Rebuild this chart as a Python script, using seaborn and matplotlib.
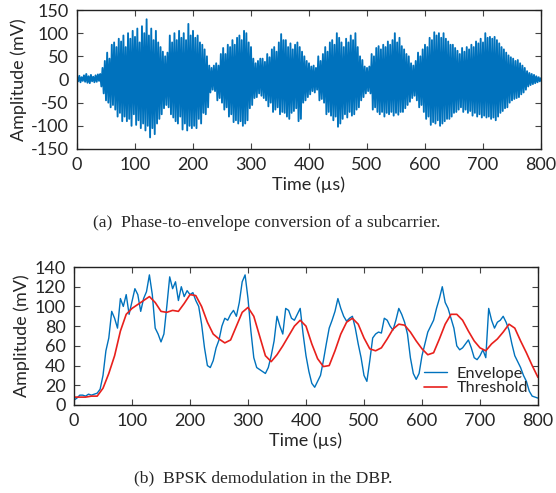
import numpy as np
import pandas as pd
import matplotlib
matplotlib.use("Agg")
import matplotlib.pyplot as plt
import seaborn as sns

# ====== data ======
# (a) subcarrier waveform, one sample every 2 us, mV (20 samples = 40 us per row)
sig_t = np.arange(0, 801, 2)
sig_mv = [
    6, -4, 8, -6, 5, -3, 9, -5, 12, -7, 7, -8, 10, -4, 6, -6, 9, -5, 11, -3,
    12, -15, 25, -30, 40, -45, 58, -50, 45, -60, 75, -55, 80, -65, 70, -80, 88, -72, 82, -90,
    95, -80, 70, -90, 100, -85, 88, -100, 105, -75, 92, -98, 110, -88, 80, -105, 115, -95, 100, -110,
    130, -100, 95, -125, 110, -105, 85, -118, 105, -95, 80, -85, 70, -75, 60, -62, 50, -55, 58, -60,
    95, -75, 80, -82, 100, -90, 85, -95, 105, -80, 90, -108, 100, -95, 85, -110, 120, -100, 95, -105,
    105, -100, 90, -105, 95, -85, 80, -95, 75, -72, 65, -75, 50, -60, 30, -28, 25, -22, 30, -25,
    35, -45, 30, -40, 55, -50, 68, -65, 55, -60, 75, -80, 70, -75, 85, -92, 75, -88, 90, -95,
    95, -90, 85, -100, 105, -95, 100, -88, 80, -62, 70, -55, 45, -40, 35, -38, 40, -30, 45, -35,
    45, -40, 38, -45, 55, -58, 48, -50, 65, -70, 70, -65, 60, -60, 80, -75, 98, -70, 85, -72,
    85, -80, 70, -85, 78, -72, 65, -68, 75, -62, 80, -90, 70, -85, 60, -50, 50, -45, 40, -38,
    35, -32, 28, -25, 30, -28, 25, -22, 50, -45, 40, -42, 55, -50, 70, -75, 60, -70, 80, -78,
    85, -88, 75, -80, 100, -102, 90, -95, 80, -85, 70, -75, 88, -82, 80, -70, 95, -78, 85, -75,
    100, -65, 70, -60, 50, -45, 42, -38, 28, -30, 25, -25, 28, -30, 55, -65, 50, -60, 68, -70,
    72, -75, 65, -70, 75, -80, 70, -72, 82, -75, 75, -70, 85, -78, 100, -72, 80, -76, 90, -70,
    72, -70, 65, -62, 55, -55, 50, -48, 35, -40, 30, -35, 40, -45, 58, -60, 50, -55, 65, -70,
    75, -85, 70, -80, 90, -98, 85, -92, 102, -95, 95, -88, 100, -100, 90, -95, 100, -90, 88, -85,
    82, -85, 75, -80, 75, -72, 68, -70, 62, -65, 55, -60, 68, -70, 60, -65, 70, -72, 65, -68,
    75, -78, 70, -72, 82, -80, 78, -75, 88, -82, 80, -78, 100, -82, 90, -80, 92, -85, 88, -82,
    92, -88, 85, -80, 78, -72, 70, -68, 65, -62, 58, -60, 52, -50, 48, -45, 45, -42, 40, -40,
    42, -38, 35, -32, 30, -28, 25, -22, 18, -15, 14, -12, 12, -10, 10, -8, 7, -6, 5, -4,
    3,
]

# (b) envelope every 5 us, threshold every 10 us, mV
env_t = np.arange(0, 801, 5)
env_mv = [
    5, 7, 10, 10, 9, 11, 10, 11, 12, 16,
    30, 55, 68, 95, 88, 78, 108, 100, 112, 92,
    105, 118, 112, 95, 108, 115, 132, 112, 78, 72,
    64, 72, 100, 130, 118, 125, 106, 120, 110, 116,
    112, 114, 106, 100, 82, 58, 40, 38, 45, 58,
    66, 80, 88, 86, 92, 96, 90, 104, 125, 132,
    108, 75, 48, 38, 36, 34, 32, 38, 50, 65,
    90, 80, 72, 98, 96, 88, 86, 92, 98, 72,
    50, 34, 22, 18, 24, 30, 45, 62, 78, 86,
    95, 108, 98, 90, 85, 88, 90, 78, 62, 48,
    30, 24, 45, 68, 72, 74, 73, 88, 86, 80,
    76, 86, 98, 92, 84, 72, 48, 32, 26, 32,
    50, 62, 74, 80, 86, 98, 108, 120, 104, 98,
    88, 78, 60, 56, 58, 62, 66, 58, 48, 46,
    50, 56, 48, 98, 86, 78, 84, 86, 90, 84,
    76, 62, 50, 44, 38, 30, 24, 14, 9, 8,
    7,
]
thr_t = np.arange(0, 801, 10)
thr_mv = [
    8, 8, 8, 9, 9, 17, 32, 50, 75, 92,
    98, 102, 106, 110, 104, 95, 94, 96, 95, 103,
    112, 111, 100, 84, 72, 67, 63, 66, 80, 94,
    99, 90, 70, 50, 44, 51, 60, 70, 80, 86,
    80, 62, 47, 39, 40, 55, 72, 84, 88, 82,
    68, 57, 55, 58, 67, 77, 82, 81, 74, 65,
    57, 51, 53, 67, 82, 92, 92, 86, 75, 65,
    58, 55, 62, 67, 74, 82, 78, 65, 53, 40,
    28,
]

# ====== style ======
sns.set_theme(style="ticks")
plt.rcParams["font.family"] = ["Lato", "DejaVu Sans"]
plt.rcParams["axes.unicode_minus"] = False
plt.rcParams["xtick.direction"] = "in"
plt.rcParams["ytick.direction"] = "in"
plt.rcParams["xtick.top"] = True
plt.rcParams["ytick.right"] = True

blue = "#0072BD"
red = "#E8201C"
fs = 13

fig = plt.figure(figsize=(5.56, 4.93), dpi=100)
ax1 = fig.add_axes([0.1385, 0.6978, 0.8345, 0.2819])
ax2 = fig.add_axes([0.1331, 0.1785, 0.8345, 0.2799])

# --- (a) ---
sns.lineplot(x=sig_t, y=sig_mv, ax=ax1, color=blue, linewidth=1.35, sort=False)
ax1.set_xlim(0, 800)
ax1.set_ylim(-150, 150)
ax1.set_xticks(range(0, 801, 100))
ax1.set_yticks(range(-150, 151, 50))

# --- (b) ---
sns.lineplot(x=env_t, y=env_mv, ax=ax2, color=blue, linewidth=1.0, label="Envelope")
sns.lineplot(x=thr_t, y=thr_mv, ax=ax2, color=red, linewidth=1.2, label="Threshold")
ax2.set_xlim(0, 800)
ax2.set_ylim(0, 140)
ax2.set_xticks(range(0, 801, 100))
ax2.set_yticks(range(0, 141, 20))
ax2.legend(loc="lower right", frameon=False, fontsize=11.7,
           handlelength=1.4, labelspacing=0.0, borderaxespad=0.2,
           handletextpad=0.6)

for ax in (ax1, ax2):
    ax.set_xlabel("Time (µs)", fontsize=fs, labelpad=2)
    ax.set_ylabel("Amplitude (mV)", fontsize=fs, labelpad=3)
    ax.tick_params(labelsize=fs, length=4, width=0.8, color="#444444", pad=6)
    for s in ax.spines.values():
        s.set_linewidth(1.0)
        s.set_color("#222222")

# captions
fig.text(0.48, 1 - 223 / 493, "(a)  Phase-to-envelope conversion of a subcarrier.",
         ha="center", va="center", fontsize=12.6, family="Liberation Serif")
fig.text(0.473, 1 - 478 / 493, "(b)  BPSK demodulation in the DBP.",
         ha="center", va="center", fontsize=12.6, family="Liberation Serif")

fig.savefig("out.png", dpi=100)
